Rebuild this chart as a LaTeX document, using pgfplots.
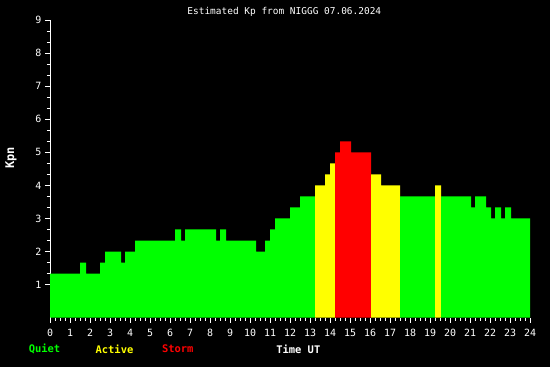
\documentclass[border=0pt]{standalone}
\usepackage{fontspec}
\setmainfont{DejaVu Sans Mono}
\usepackage{pgfplots}
\pgfplotsset{compat=1.18}
\definecolor{kgreen}{RGB}{0,255,0}
\definecolor{kyellow}{RGB}{255,255,0}
\definecolor{kred}{RGB}{255,0,0}
\begin{document}
\begin{tikzpicture}
\path[use as bounding box, fill=black] (-50bp,-49.3bp) rectangle (500bp,317.7bp);
\begin{axis}[
  at={(0,0)}, anchor=south west,
  scale only axis, width=480bp, height=297.7bp,
  xmin=0, xmax=24, ymin=0, ymax=9,
  axis x line*=bottom, axis y line*=left,
  x axis line style={draw=none},
  y axis line style={white, line width=1bp, -},
  xtick={0,...,24}, ytick={1,...,9},
  minor x tick num=3, minor y tick num=2,
  tick align=outside, major tick length=5bp, minor tick length=3bp,
  every tick/.style={white, line width=0.9bp},
  every minor tick/.style={white, line width=0.9bp},
  ticklabel style={font=\fontsize{10}{11}\selectfont, text=white},
  /pgf/number format/assume math mode=true,
  xticklabel style={yshift=-3bp},
]
\addplot[const plot, fill=kgreen, draw=none] coordinates {
(0,1.333) (1.5,1.667) (1.8,1.333) (2.5,1.667) (2.75,2) (3.55,1.667) (3.75,2)
(4.25,2.333) (6.25,2.667) (6.55,2.333) (6.75,2.667) (8.3,2.333) (8.5,2.667)
(8.8,2.333) (10.3,2) (10.75,2.333) (11.0,2.667) (11.25,3) (12.0,3.333)
(12.5,3.667) (13.25,3.667)} \closedcycle;
\addplot[const plot, fill=kyellow, draw=none] coordinates {
(13.25,4) (13.75,4.333) (14.0,4.667) (14.25,4.667)} \closedcycle;
\addplot[const plot, fill=kred, draw=none] coordinates {
(14.25,5) (14.5,5.333) (15.05,5) (16.05,5)} \closedcycle;
\addplot[const plot, fill=kyellow, draw=none] coordinates {
(16.05,4.333) (16.55,4) (17.5,4)} \closedcycle;
\addplot[const plot, fill=kgreen, draw=none] coordinates {
(17.5,3.667) (19.25,3.667)} \closedcycle;
\addplot[const plot, fill=kyellow, draw=none] coordinates {
(19.25,4) (19.55,4)} \closedcycle;
\addplot[const plot, fill=kgreen, draw=none] coordinates {
(19.55,3.667) (21.05,3.333) (21.25,3.667) (21.8,3.333) (22.05,3) (22.25,3.333)
(22.55,3) (22.75,3.333) (23.05,3) (24,3)} \closedcycle;
\end{axis}
\node[text=white, font=\fontsize{9.5}{10}\selectfont] at (234.3bp,305.7bp) {Estimated Kp from NIGGG 07.06.2024};
\node[text=white, rotate=90, font=\bfseries\fontsize{12}{13}\selectfont] at (-39bp,159.7bp) {Kpn};
\node[text=kgreen, font=\bfseries\fontsize{10.5}{11}\selectfont] at (-5.5bp,-31.3bp) {Quiet};
\node[text=kyellow, font=\bfseries\fontsize{10.5}{11}\selectfont] at (64.5bp,-31.3bp) {Active};
\node[text=kred, font=\bfseries\fontsize{10.5}{11}\selectfont] at (127.8bp,-31.3bp) {Storm};
\node[text=white, font=\bfseries\fontsize{10.5}{11}\selectfont] at (248.3bp,-31.3bp) {Time UT};
\end{tikzpicture}
\end{document}
